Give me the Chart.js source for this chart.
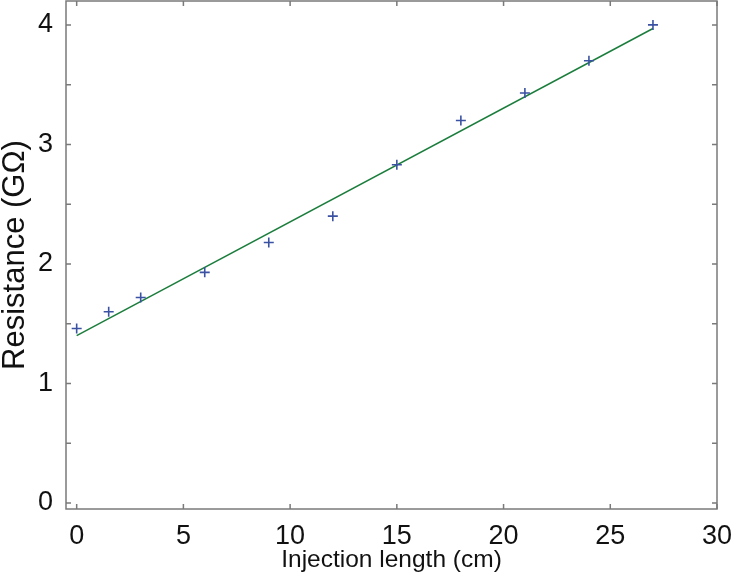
<!DOCTYPE html>
<html>
<head>
<meta charset="utf-8">
<script src="https://cdn.jsdelivr.net/npm/chart.js@4"></script>
<style>
  html, body { margin: 0; padding: 0; background: #fff; }
  #wrap { width: 733px; height: 577px; }
</style>
</head>
<body>
<div id="wrap"><canvas id="chart" width="733" height="577"></canvas></div>
<script>
// measured points
const injectionLength = [0, 1.5, 3, 6, 9, 12, 15, 18, 21, 24, 27];
const resistance      = [1.46, 1.60, 1.72, 1.93, 2.18, 2.40, 2.83, 3.20, 3.43, 3.70, 4.00];
// linear fit
const fitX = [0, 27];
const fitY = [1.40, 3.97];
// axes
const xTicks = [0, 5, 10, 15, 20, 25, 30];
const yTicks = [0, 0.5, 1, 1.5, 2, 2.5, 3, 3.5, 4];

const FONT = '"Liberation Sans", Arial, Helvetica, sans-serif';
const AXIS = '#7a7a7a';

// MATLAB style box with inward ticks on all four sides
const boxTicks = {
  id: 'boxTicks',
  afterDatasetsDraw(chart) {
    const { ctx, chartArea: a, scales: { x, y } } = chart;
    const len = 5;
    ctx.save();
    ctx.strokeStyle = AXIS;
    ctx.lineWidth = 1.5;
    ctx.strokeRect(a.left, a.top, a.right - a.left, a.bottom - a.top);
    ctx.beginPath();
    xTicks.forEach(v => {
      const px = x.getPixelForValue(v);
      ctx.moveTo(px, a.bottom); ctx.lineTo(px, a.bottom - len);
      ctx.moveTo(px, a.top);    ctx.lineTo(px, a.top + len);
    });
    yTicks.forEach(v => {
      const py = y.getPixelForValue(v);
      ctx.moveTo(a.left, py);  ctx.lineTo(a.left + len, py);
      ctx.moveTo(a.right, py); ctx.lineTo(a.right - len, py);
    });
    ctx.stroke();
    ctx.restore();
  }
};

new Chart(document.getElementById('chart'), {
  type: 'scatter',
  data: {
    datasets: [
      {
        label: 'Fit',
        data: fitX.map((v, i) => ({ x: v, y: fitY[i] })),
        showLine: true,
        borderColor: '#1b7d3c',
        borderWidth: 1.5,
        pointRadius: 0,
        order: 2,
      },
      {
        label: 'Measured',
        data: injectionLength.map((v, i) => ({ x: v, y: resistance[i] })),
        pointStyle: 'cross',
        pointRadius: 5,
        borderColor: '#3b52a3',
        borderWidth: 1.6,
        order: 1,
      },
    ],
  },
  options: {
    responsive: false,
    animation: false,
    layout: { autoPadding: false, padding: { top: 1, right: 16, left: 0, bottom: 0 } },
    plugins: { legend: { display: false }, tooltip: { enabled: false } },
    scales: {
      x: {
        type: 'linear',
        min: -0.5,
        max: 30,
        afterBuildTicks: s => { s.ticks = xTicks.map(v => ({ value: v })); },
        afterFit: s => { s.height = 68; s.paddingLeft = 0; s.paddingRight = 0; },
        grid: { display: false },
        border: { display: false },
        ticks: { color: '#111', font: { family: FONT, size: 27 }, padding: 3, maxRotation: 0 },
        title: {
          display: true,
          text: 'Injection length (cm)',
          color: '#111',
          font: { family: FONT, size: 24.5 },
          padding: { top: 0, bottom: 2 },
        },
      },
      y: {
        type: 'linear',
        min: -0.05,
        max: 4.2,
        afterBuildTicks: s => { s.ticks = yTicks.map(v => ({ value: v })); },
        afterFit: s => { s.width = 66; s.paddingTop = 0; s.paddingBottom = 0; },
        grid: { display: false },
        border: { display: false },
        ticks: {
          color: '#111',
          font: { family: FONT, size: 27 },
          padding: 5,
          callback: v => Number.isInteger(v) ? v : '',
        },
        title: {
          display: true,
          text: 'Resistance (GΩ)',
          color: '#111',
          font: { family: FONT, size: 31, lineHeight: 1 },
          padding: { top: 0, bottom: 0 },
        },
      },
    },
  },
  plugins: [boxTicks],
});
</script>
</body>
</html>
